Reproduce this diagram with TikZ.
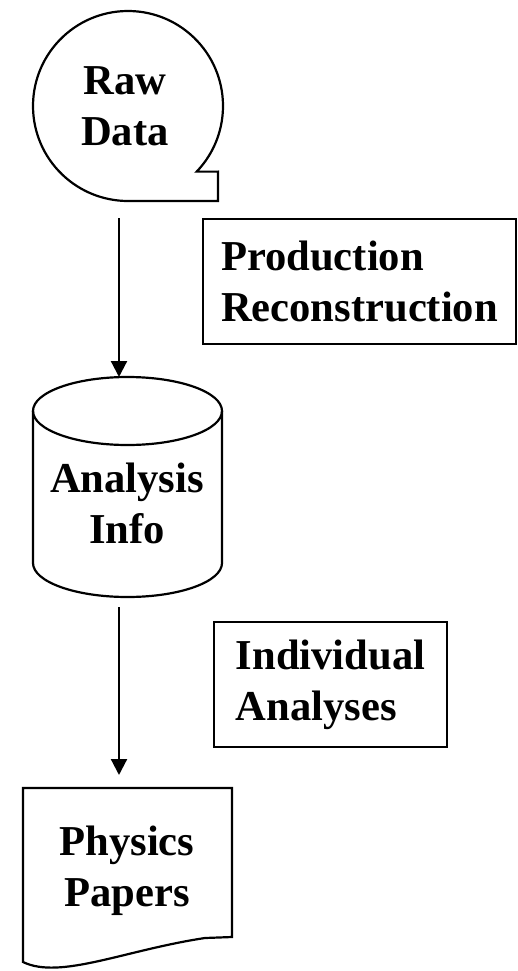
\documentclass[tikz,border=0pt]{standalone}
\usepackage{fontspec}
\setmainfont{Liberation Serif}
\usetikzlibrary{arrows.meta,calc}
\begin{document}
\begin{tikzpicture}[x=1pt,y=1pt,line width=2.2pt,
  lbl/.style={font=\fontsize{42.6}{51}\selectfont\bfseries, align=center, inner sep=0pt},
  procbox/.style={draw, font=\fontsize{42.6}{51}\selectfont\bfseries, align=left, inner sep=0pt},
  conn/.style={-{Triangle[length=16pt,width=16pt]}, line width=2.2pt}]
\useasboundingbox (0,0) rectangle (517,-971);
% Raw Data (stored data shape)
\node[lbl] (raw) at (125,-106.5) {Raw\\Data};
\coordinate (rawc) at (128,-106);
\draw ($(rawc)+(-43.7:95)$) arc[start angle=-43.7, end angle=270, radius=95]
  -- (218,-201) -- (218,-171.6) -- cycle;
% Production box
\node[procbox, minimum width=313pt, minimum height=125pt] (prod) at (359.5,-281.5) {Production\\Reconstruction};
% Cylinder
\coordinate (cyltop) at (127.5,-411);
\coordinate (cylbot) at (127.5,-563);
\draw (cyltop) ellipse[x radius=94.5, y radius=34];
\draw ($(cyltop)+(-94.5,0)$) -- ($(cylbot)+(-94.5,0)$)
  arc[start angle=180, end angle=360, x radius=94.5, y radius=34]
  -- ($(cyltop)+(94.5,0)$);
\node[lbl] (info) at (127,-503) {Analysis\\Info};
% Individual box
\node[procbox, minimum width=233pt, minimum height=125pt] (indiv) at (330.5,-684.5) {Individual\\Analyses};
% Document shape
\draw (23,-788) -- (232,-788) -- (232,-937) -- (205,-938)
  .. controls (125,-950) and (60,-980) .. (23,-962) -- cycle;
\node[lbl] (papers) at (127,-870.5) {Physics\\Papers};
% connectors
\coordinate (a1s) at (119,-218);
\coordinate (a1e) at (119,-377);
\coordinate (a2s) at (119,-607);
\coordinate (a2e) at (119,-775);
\draw[conn] (a1s) -- (a1e);
\draw[conn] (a2s) -- (a2e);
\end{tikzpicture}
\end{document}
